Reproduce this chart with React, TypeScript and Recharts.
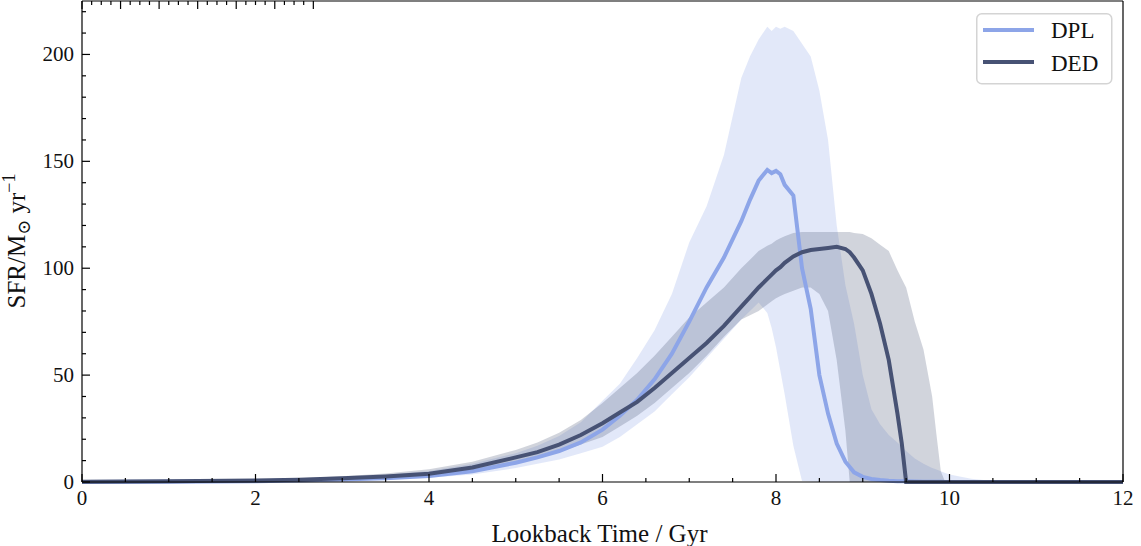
import { ComposedChart, Area, Line, XAxis, YAxis, Legend } from 'recharts'

// lookback time grid (Gyr)
const times = [0, 1, 2, 2.5, 3, 3.5, 4, 4.5, 5, 5.25, 5.5, 5.75, 6, 6.2, 6.4, 6.6, 6.8, 7, 7.2, 7.4, 7.6, 7.7, 7.8, 7.9, 7.95, 8, 8.05, 8.1, 8.2, 8.3, 8.4, 8.5, 8.6, 8.7, 8.8, 8.85, 8.9, 9, 9.1, 9.2, 9.3, 9.4, 9.45, 9.5, 9.6, 9.7, 9.8, 9.85, 9.9, 9.95, 10, 10.25, 10.5, 11, 12]

// DPL median + 16-84 band
const dplSfr = [0, 0.1, 0.4, 0.7, 1.2, 1.8, 2.8, 5, 9, 11.5, 14.5, 18.5, 24.5, 31, 38.5, 48, 60, 75, 91, 105, 122, 132, 141, 146, 144.5, 145.5, 144, 139, 134, 100, 81, 50, 32, 18, 9.5, 7, 4.5, 2.4, 1.4, 0.9, 0.6, 0.4, 0.35, 0.3, 0.2, 0.15, 0.1, 0.1, 0.1, 0.05, 0.05, 0, 0, 0, 0]
const dplLo = [0, 0.05, 0.2, 0.4, 0.7, 1.2, 2, 3.5, 6.5, 8.5, 10.5, 13.5, 16.5, 21, 27, 33, 41, 49, 58, 67, 76, 80, 84, 79, 72, 63, 52, 41, 17, 0.5, 0.2, 0, 0, 0, 0, 0, 0, 0, 0, 0, 0, 0, 0, 0, 0, 0, 0, 0, 0, 0, 0, 0, 0, 0, 0]
const dplHi = [0.1, 0.3, 0.9, 1.4, 2.2, 3.4, 5.2, 8.5, 13.5, 17, 21.5, 28, 38, 46, 58, 71, 88, 112, 129, 153, 189, 199, 207, 213, 211, 213, 212, 213, 211, 205, 199, 183, 160, 120, 92, 83, 74, 50, 34, 27, 22, 18.5, 16.5, 14.5, 11, 8.5, 6.5, 5.8, 5, 4.2, 3.5, 1.5, 0.5, 0.1, 0]

// DED median + 16-84 band
const dedSfr = [0.1, 0.3, 0.7, 1.1, 1.7, 2.6, 3.9, 6.8, 11.5, 14, 17.5, 22, 27.5, 32.5, 37.5, 44, 51, 58, 65, 73, 82, 86.5, 91, 95, 97, 99, 100.5, 102.5, 105.5, 107.5, 108.5, 109, 109.5, 110, 109, 107.5, 105, 99, 88, 74, 57, 32, 18, 0, 0, 0, 0, 0, 0, 0, 0, 0, 0, 0, 0]
const dedLo = [0.05, 0.2, 0.5, 0.8, 1.2, 1.9, 3, 5, 8.5, 11, 14, 17.5, 21, 26, 31, 37, 44, 51, 59, 68, 76, 78, 80, 83, 84.5, 86, 87, 88, 89.5, 91, 91, 88, 80, 57, 24, 0, 0, 0, 0, 0, 0, 0, 0, 0, 0, 0, 0, 0, 0, 0, 0, 0, 0, 0, 0]
const dedHi = [0.15, 0.5, 1.2, 1.8, 2.7, 4, 6, 9.5, 15, 18.5, 23, 29, 37, 44, 51, 59, 68, 77, 84, 91, 100, 104, 108, 110.5, 111.5, 113, 114, 115, 116.5, 117, 117, 117, 117, 117, 117, 117, 116.5, 116, 114, 111, 108, 99, 95, 91, 75, 62, 40, 22, 5, 0, 0, 0, 0, 0, 0]

const xTicks = Array.from({ length: 25 }, (_, i) => i * 0.5)
const yTicks = Array.from({ length: 23 }, (_, i) => i * 10)

const series = [
  { name: 'DPL', color: '#8da5e8' },
  { name: 'DED', color: '#475274' },
]

const data = times.map((t, i) => ({
  t,
  dpl: dplSfr[i],
  ded: dedSfr[i],
  dplBand: [dplLo[i], dplHi[i]],
  dedBand: [dedLo[i], dedHi[i]],
}))

const FONT = '"Liberation Serif", "DejaVu Serif", serif'

const BottomTick = ({ x, y, payload }: any) => {
  const v = payload.value
  const major = v % 2 === 0
  return (
    <g>
      <line x1={x} x2={x} y1={y} y2={y - (major ? 8 : 4)} stroke="#000" strokeWidth={1.2} />
      {major && (
        <text x={x} y={y + 23} textAnchor="middle" fontFamily={FONT} fontSize={21} fill="#111">
          {v}
        </text>
      )}
    </g>
  )
}

const TopTick = ({ x, y, payload }: any) => {
  const major = payload.value % 2 === 0
  return <line x1={x} x2={x} y1={y} y2={y + (major ? 8 : 4)} stroke="#000" strokeWidth={1.2} />
}

const LeftTick = ({ x, y, payload }: any) => {
  const v = payload.value
  const major = v % 50 === 0
  return (
    <g>
      <line x1={x} x2={x + (major ? 8 : 4)} y1={y} y2={y} stroke="#000" strokeWidth={1.2} />
      {major && (
        <text x={x - 8} y={y + 7} textAnchor="end" fontFamily={FONT} fontSize={21} fill="#111">
          {v}
        </text>
      )}
    </g>
  )
}

const RightTick = ({ x, y, payload }: any) => {
  const major = payload.value % 50 === 0
  return <line x1={x} x2={x - (major ? 8 : 4)} y1={y} y2={y} stroke="#000" strokeWidth={1.2} />
}

const LegendBox = () => (
  <svg width={137} height={72}>
    <rect x={0.75} y={0.75} width={135} height={70} rx={5} fill="#fff" stroke="#d4d4d4" strokeWidth={1.5} />
    {series.map((s, i) => (
      <g key={s.name}>
        <line x1={7} x2={58} y1={17 + i * 32} y2={17 + i * 32} stroke={s.color} strokeWidth={4} />
        <text x={75} y={25 + i * 33} fontFamily={FONT} fontSize={23} fill="#111">
          {s.name}
        </text>
      </g>
    ))}
  </svg>
)

export default function App() {
  return (
    <div style={{ position: 'absolute', left: 0, top: 0, background: '#fff' }}>
      <ComposedChart width={1141} height={546} data={data} margin={{ top: 0, right: 17, bottom: 0, left: 0 }}>
        <XAxis
          xAxisId="b"
          dataKey="t"
          type="number"
          domain={[0, 12]}
          ticks={xTicks}
          interval={0}
          tick={<BottomTick />}
          tickLine={false}
          tickSize={0}
          tickMargin={0}
          height={64}
          axisLine={{ stroke: '#000', strokeWidth: 1.2 }}
          label={({ viewBox }: any) => (
            <text
              x={viewBox.x + viewBox.width / 2 - 3}
              y={viewBox.y + 60}
              textAnchor="middle"
              fontFamily={FONT}
              fontSize={25}
              fill="#111"
            >
              Lookback Time / Gyr
            </text>
          )}
        />
        <XAxis
          xAxisId="t"
          orientation="top"
          type="number"
          domain={[0, 12]}
          ticks={xTicks}
          interval={0}
          tick={<TopTick />}
          tickLine={false}
          tickSize={0}
          tickMargin={0}
          height={1}
          axisLine={{ stroke: '#000', strokeWidth: 1.2 }}
        />
        <YAxis
          yAxisId="l"
          type="number"
          domain={[0, 225]}
          ticks={yTicks}
          interval={0}
          tick={<LeftTick />}
          tickLine={false}
          tickSize={0}
          tickMargin={0}
          width={82}
          axisLine={{ stroke: '#000', strokeWidth: 1.2 }}
          label={() => (
            <text transform="translate(25,241) rotate(-90)" textAnchor="middle" fontFamily={FONT} fontSize={25} fill="#111">
              SFR/M
              <tspan fontSize={18} dy={5}>⊙</tspan>
              <tspan dy={-5}> yr</tspan>
              <tspan fontSize={18} dy={-10}>−1</tspan>
            </text>
          )}
        />
        <YAxis
          yAxisId="r"
          orientation="right"
          type="number"
          domain={[0, 225]}
          ticks={yTicks}
          interval={0}
          tick={<RightTick />}
          tickLine={false}
          tickSize={0}
          tickMargin={0}
          width={1}
          axisLine={{ stroke: '#000', strokeWidth: 1.2 }}
        />
        <Area
          xAxisId="b"
          yAxisId="l"
          type="linear"
          dataKey="dplBand"
          stroke="none"
          fill={series[0].color}
          fillOpacity={0.25}
          isAnimationActive={false}
          legendType="none"
        />
        <Area
          xAxisId="b"
          yAxisId="l"
          type="linear"
          dataKey="dedBand"
          stroke="none"
          fill={series[1].color}
          fillOpacity={0.25}
          isAnimationActive={false}
          legendType="none"
        />
        <Line
          xAxisId="b"
          yAxisId="l"
          type="linear"
          dataKey="dpl"
          name="DPL"
          stroke={series[0].color}
          strokeWidth={4}
          dot={false}
          isAnimationActive={false}
        />
        <Line
          xAxisId="b"
          yAxisId="l"
          type="linear"
          dataKey="ded"
          name="DED"
          stroke={series[1].color}
          strokeWidth={4}
          dot={false}
          isAnimationActive={false}
        />
        <Legend
          layout="vertical"
          align="center"
          verticalAlign="middle"
          content={() => <LegendBox />}
          wrapperStyle={{ top: 13, left: 976, width: 137, height: 72 }}
        />
      </ComposedChart>
    </div>
  )
}
